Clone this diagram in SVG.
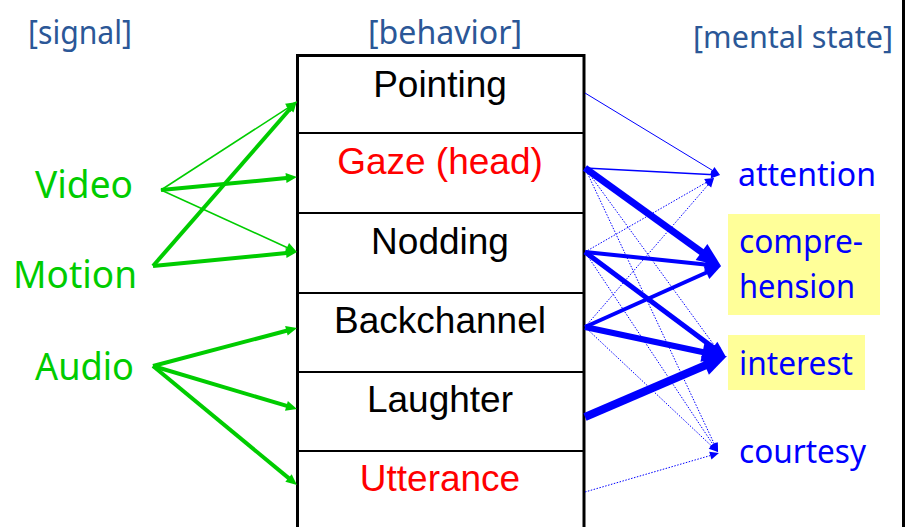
<svg xmlns="http://www.w3.org/2000/svg" width="905" height="527" viewBox="0 0 905 527">
<style>
.hdr{font-family:"Noto Sans","Open Sans",sans-serif;font-size:33px;fill:#2B5797}
.sig{font-family:"Noto Sans","Open Sans",sans-serif;font-size:39px;fill:#00CC00}
.beh{font-family:"Liberation Sans",Arial,sans-serif;font-size:37px;text-anchor:middle}
.ms{font-family:"Noto Sans","Open Sans",sans-serif;font-size:33px;fill:#0000FF}
.g{stroke:#00CC00;fill:none}
.b{stroke:#0000FF;fill:none}
.dot{stroke-dasharray:1.5 1.5;stroke-width:1}
.sep{stroke:#000;stroke-width:2}
</style>
<defs>
<marker id="gm" viewBox="-1 -6 13 12" markerWidth="13" markerHeight="12" refX="3" refY="0" orient="auto" markerUnits="userSpaceOnUse"><path d="M0,-5 L11,0 L0,5 z" fill="#00CC00"/></marker>
<marker id="bs" viewBox="-1 -5 11 10" markerWidth="11" markerHeight="10" refX="3" refY="0" orient="auto" markerUnits="userSpaceOnUse"><path d="M0,-4 L9,0 L0,4 z" fill="#0000FF"/></marker>
<marker id="bm" viewBox="-1 -8 18 16" markerWidth="18" markerHeight="16" refX="5" refY="0" orient="auto" markerUnits="userSpaceOnUse"><path d="M0,-7 L16,0 L0,7 z" fill="#0000FF"/></marker>
<marker id="bl" viewBox="-1 -11 26 22" markerWidth="26" markerHeight="22" refX="7" refY="0" orient="auto" markerUnits="userSpaceOnUse"><path d="M0,-10 L24,0 L0,10 z" fill="#0000FF"/></marker>
</defs>
<rect width="905" height="527" fill="#fff"/>
<rect x="902" y="0" width="3" height="527" fill="#000"/>

<g id="headers">
<text class="hdr" x="28" y="44" textLength="104" lengthAdjust="spacingAndGlyphs">[signal]</text>
<text class="hdr" x="368" y="44" textLength="154" lengthAdjust="spacingAndGlyphs">[behavior]</text>
<text class="hdr" x="693" y="48" style="font-size:30.5px" textLength="200" lengthAdjust="spacingAndGlyphs">[mental state]</text>
</g>

<g id="signals">
<g id="sig-video"><text class="sig" x="35" y="198" textLength="98" lengthAdjust="spacingAndGlyphs">Video</text></g>
<g id="sig-motion"><text class="sig" x="13" y="288" textLength="124" lengthAdjust="spacingAndGlyphs">Motion</text></g>
<g id="sig-audio"><text class="sig" x="35" y="380" textLength="99" lengthAdjust="spacingAndGlyphs">Audio</text></g>
</g>

<g id="behavior-box">
<rect x="297.5" y="55.5" width="286.5" height="480" fill="none" stroke="#000" stroke-width="3"/>
<line class="sep" x1="297" y1="133" x2="584" y2="133"/>
<line class="sep" x1="297" y1="213" x2="584" y2="213"/>
<line class="sep" x1="297" y1="293" x2="584" y2="293"/>
<line class="sep" x1="297" y1="372" x2="584" y2="372"/>
<line class="sep" x1="297" y1="451" x2="584" y2="451"/>
</g>
<g id="beh-pointing"><text class="beh" x="440" y="97" fill="#000">Pointing</text></g>
<g id="beh-gaze"><text class="beh" x="440" y="174" fill="#FF0000">Gaze (head)</text></g>
<g id="beh-nodding"><text class="beh" x="440" y="254" fill="#000">Nodding</text></g>
<g id="beh-backchannel"><text class="beh" x="440" y="333" fill="#000">Backchannel</text></g>
<g id="beh-laughter"><text class="beh" x="440" y="412" fill="#000">Laughter</text></g>
<g id="beh-utterance"><text class="beh" x="440" y="491" fill="#FF0000">Utterance</text></g>

<g id="mental-states">
<g id="ms-attention"><text class="ms" x="738" y="186" textLength="138" lengthAdjust="spacingAndGlyphs">attention</text></g>
<g id="ms-comprehension">
<rect x="728" y="214" width="152" height="101" fill="#FFFF99"/>
<text class="ms" x="739" y="253" textLength="124" lengthAdjust="spacingAndGlyphs">compre-</text>
<text class="ms" x="739" y="298" textLength="116" lengthAdjust="spacingAndGlyphs">hension</text>
</g>
<g id="ms-interest">
<rect x="728" y="335" width="137" height="55" fill="#FFFF99"/>
<text class="ms" x="739" y="375" textLength="114" lengthAdjust="spacingAndGlyphs">interest</text>
</g>
<g id="ms-courtesy"><text class="ms" x="739" y="463" textLength="127" lengthAdjust="spacingAndGlyphs">courtesy</text></g>
</g>

<g id="connectors">
<line class="g" stroke-width="1.5" x1="161" y1="190" x2="290.3" y2="106.3" marker-end="url(#gm)"/>
<line class="g" stroke-width="4" x1="161" y1="190" x2="289" y2="177.8" marker-end="url(#gm)"/>
<line class="g" stroke-width="1.5" x1="161" y1="190" x2="289.7" y2="248.7" marker-end="url(#gm)"/>
<line class="g" stroke-width="4" x1="153" y1="266" x2="291.7" y2="107" marker-end="url(#gm)"/>
<line class="g" stroke-width="4" x1="153" y1="266" x2="289" y2="252.8" marker-end="url(#gm)"/>
<line class="g" stroke-width="4" x1="153" y1="366" x2="289.3" y2="330" marker-end="url(#gm)"/>
<line class="g" stroke-width="4" x1="153" y1="366" x2="289.3" y2="406.7" marker-end="url(#gm)"/>
<line class="g" stroke-width="4" x1="153" y1="366" x2="290.8" y2="479.9" marker-end="url(#gm)"/>
<line class="b" stroke-width="1" x1="585" y1="93" x2="714.9" y2="171.9" marker-end="url(#bs)"/>
<line class="b" stroke-width="1.5" x1="585" y1="168" x2="714" y2="174.7" marker-end="url(#bs)"/>
<line class="b" stroke-width="7" x1="585" y1="168" x2="707.2" y2="256.1" marker-end="url(#bl)"/>
<line class="b dot" x1="585" y1="168" x2="718.5" y2="351.2" marker-end="url(#bs)"/>
<line class="b dot" x1="585" y1="168" x2="715.5" y2="446.6" marker-end="url(#bs)"/>
<line class="b dot" x1="585" y1="252" x2="708.8" y2="181" marker-end="url(#bs)"/>
<line class="b" stroke-width="4" x1="585" y1="252" x2="710.1" y2="264.9" marker-end="url(#bm)"/>
<line class="b" stroke-width="5" x1="585" y1="252" x2="717.2" y2="350.4" marker-end="url(#bm)"/>
<line class="b dot" x1="585" y1="252" x2="714.7" y2="447" marker-end="url(#bs)"/>
<line class="b dot" x1="585" y1="327" x2="710.1" y2="182.5" marker-end="url(#bs)"/>
<line class="b" stroke-width="4" x1="585" y1="327" x2="711" y2="270.5" marker-end="url(#bm)"/>
<line class="b" stroke-width="6" x1="585" y1="327" x2="709.4" y2="353.5" marker-end="url(#bl)"/>
<line class="b dot" x1="585" y1="327" x2="713.6" y2="447.9" marker-end="url(#bs)"/>
<line class="b" stroke-width="8" x1="585" y1="417" x2="711.4" y2="362.7" marker-end="url(#bl)"/>
<line class="b dot" x1="585" y1="492" x2="713.2" y2="454.7" marker-end="url(#bs)"/>
</g>
</svg>
